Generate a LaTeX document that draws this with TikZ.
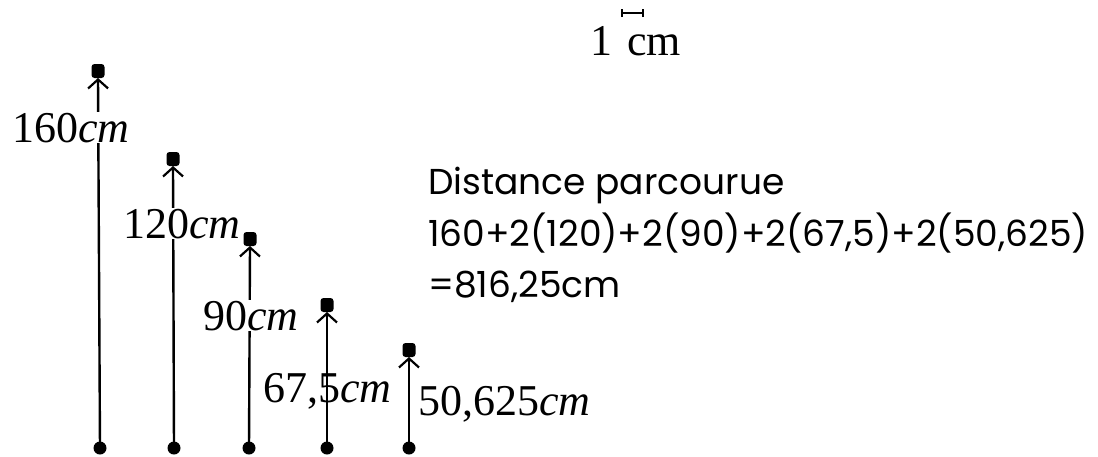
\documentclass[tikz,border=0pt]{standalone}
\usepackage{fontspec}
\setmainfont{Liberation Serif}
\newfontfamily\handfont{Poppins}
\usetikzlibrary{arrows.meta}
\begin{document}
\begin{tikzpicture}[x=1pt,y=-1pt,
  stem/.style={line width=2.4pt,-{Straight Barb[length=9pt,width=20pt,line width=2.2pt]}},
  base/.style={circle,fill=black,inner sep=0pt,minimum size=13pt},
  head/.style={rectangle,rounded corners=3pt,fill=black,inner sep=0pt,minimum width=13pt,minimum height=14pt},
  lbl/.style={font=\fontsize{44}{48}\selectfont,inner sep=1pt,anchor=base west},
  txt/.style={font=\handfont\fontsize{36}{40}\selectfont,anchor=base west,inner sep=0pt}]
\useasboundingbox (0,0) rectangle (1098,456);
% bottoms
\node[base] (b1) at (100,448) {};
\node[base] (b2) at (174,448) {};
\node[base] (b3) at (249,448) {};
\node[base] (b4) at (327,448) {};
\node[base] (b5) at (409,448) {};
% heads
\node[head] (h1) at (98,71) {};
\node[head] (h2) at (173,159) {};
\node[head] (h3) at (250,239) {};
\node[head] (h4) at (327,305) {};
\node[head] (h5) at (409,350) {};
\coordinate (t1) at (98,78);
\coordinate (t2) at (173,166);
\coordinate (t3) at (250,246);
\coordinate (t4) at (327,312);
\coordinate (t5) at (409,357);
\draw[stem] (b1.center) -- (t1);
\draw[stem] (b2.center) -- (t2);
\draw[stem] (b3.center) -- (t3);
\draw[stem] (b4.center) -- (t4);
\draw[stem] (b5.center) -- (t5);
% labels
\node[lbl,fill=white] (l1) at (11,142) {160\textit{cm}};
\node[lbl,fill=white] (l2) at (122,238) {120\textit{cm}};
\node[lbl,fill=white] (l3) at (202,330) {90\textit{cm}};
\node[lbl] (l4) at (262,402) {67,5\textit{cm}};
\node[lbl] (l5) at (417,415) {50,625\textit{cm}};
% scale
\node[lbl,anchor=base] (one) at (601,55) {1};
\node[lbl,anchor=base] (cmu) at (654,55) {cm};
\coordinate (s1) at (622,13);
\coordinate (s2) at (643,13);
\draw[line width=1.5pt] (s1) -- (s2);
\draw[line width=1.5pt] ([yshift=-4]s1) -- ([yshift=4]s1);
\draw[line width=1.5pt] ([yshift=-4]s2) -- ([yshift=4]s2);
% right text
\node[txt] (d1) at (428,194) {Distance parcourue};
\node[txt] (d2) at (428,246) {160+2(120)+2(90)+2(67,5)+2(50,625)};
\node[txt] (d3) at (428,297) {=816,25cm};
\end{tikzpicture}
\end{document}
